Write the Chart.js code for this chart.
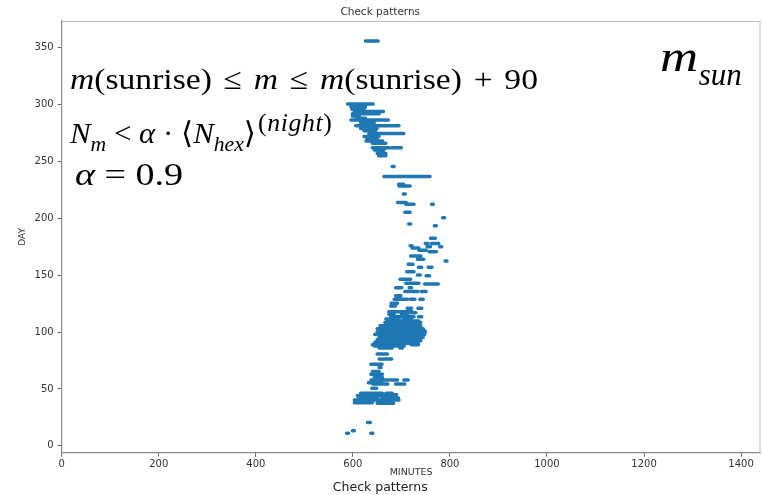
<!DOCTYPE html>
<html><head><meta charset="utf-8">
<script src="https://cdn.jsdelivr.net/npm/chart.js@4.4.1/dist/chart.umd.min.js"></script>
<style>
html,body{margin:0;padding:0;background:#fff;}
#wrap{position:relative;width:762px;height:495px;overflow:hidden;}
canvas{position:absolute;left:0;top:0;}
.m{position:absolute;font-family:"Liberation Serif","DejaVu Serif",serif;color:#000;white-space:nowrap;line-height:1;transform-origin:0 0;}
.m i{font-style:italic;}
.sub{position:relative;}
</style></head><body>
<div id="wrap">
<canvas id="c" width="762" height="495"></canvas>
<div class="m" id="l1" style="left:70px;top:64px;font-size:30px;word-spacing:3px;transform:scaleX(1.12);"><i>m</i>(sunrise) ≤ <i>m</i> ≤ <i>m</i>(sunrise) + 90</div>
<div class="m" id="l2" style="left:70px;top:118px;font-size:30px;transform:scaleX(1.03);"><i>N</i><span class="sub" style="font-size:21px;top:8px;"><i>m</i></span> &lt; <i>α</i> · ⟨<i>N</i><span class="sub" style="font-size:21px;top:8px;"><i>hex</i></span>⟩<span class="sub" style="font-size:25px;top:-12px;letter-spacing:0.6px;margin-left:2px;">(<i>night</i>)</span></div>
<div class="m" id="l3" style="left:75px;top:158px;font-size:32px;transform:scaleX(1.19);"><i>α</i> = 0.9</div>
<div class="m" id="l4" style="left:660px;top:35px;font-size:44px;"><span style="display:inline-block;transform:scaleX(1.2);transform-origin:0 0;margin-right:7px;"><i>m</i></span><span class="sub" style="font-size:31px;top:14px;"><i>sun</i></span></div>
</div>
<script>
// Day of year for each detected segment, and its start / end minute
const days = [356,300.5,298,296,294,292,290,288,286.5,284,281.5,279,277,274.5,272,270,268,266,262,262,260,257,255,245.5,
  236.7,230,228.5,221.4,214,212.4,212.4,205.4,200.6,195,193.6,182.5,177.8,177.8,176,175,175,174,172,170.7,167,164,162.6,
  159.7,157,157,153,150.3,149.6,146.5,143,142.4,139,139,135.6,135.6,135.6,132,129,129,129,125.4,123,121,121,
  118,117,115.7,115.7,113.6,113.6,111.6,111.6,109.8,108.5,108.5,107,105.5,104.5,104.5,103,101.5,101.5,100,99,97.8,96.7,95.5,95.5,94.6,
  93.5,93.5,92.5,91.2,90.2,88.8,88.8,87.9,86,86,80.8,76.4,76.4,71.8,68.8,65.3,63,60,58,58,58,55.6,54.5,54.5,50.7,
  46.3,46.3,45,44,42,42,40.4,38,37.5,20.5,13.2,11.2,11.2];
const startMinutes = [626,589,596,598,603,599,599,608,596,616,606,616,623,633,623,629,627,640,640,680,644,650,653,681,
  664,694,695,704,692,709,762,707,785,715,768,760,749,762,718,753,779,722,736,757,719,733,790,
  714,735,755,711,733,751,697,709,748,688,716,707,722,741,688,685,718,738,679,678,712,734,
  674,700,674,700,678,735,668,705,674,666,700,670,656,665,710,650,660,728,650,656,645,654,660,725,654,
  650,718,654,645,646,640,720,644,654,697,650,654,663,637,654,640,637,644,637,678,705,632,641,688,639,
  616,668,620,609,612,660,603,603,650,630,599,587,637];
const endMinutes = [652,642,626,623,663,654,613,626,673,644,695,650,647,705,654,650,661,668,675,700,664,668,668,685,
  759,705,718,708,710,726,766,718,789,719,772,770,755,777,722,760,783,736,751,772,740,746,794,
  724,742,763,726,739,758,719,736,776,701,721,717,734,751,699,712,728,745,692,688,721,742,
  722,730,685,712,726,742,695,720,736,690,740,725,740,700,735,745,720,748,750,740,748,743,720,745,733,
  710,740,740,725,735,705,735,706,681,702,671,658,680,660,658,654,661,661,675,692,714,660,672,707,649,
  661,681,690,688,650,694,695,640,684,636,603,591,641];
const xTicks = [0,200,400,600,800,1000,1200,1400];
const yTicks = [0,50,100,150,200,250,300,350];

const pts = [];
for (let i = 0; i < days.length; i++) {
  pts.push({x: startMinutes[i], y: days[i]});
  pts.push({x: endMinutes[i], y: days[i]});
  pts.push({x: null, y: null});
}

const frame = {
  id: 'frame',
  afterDraw(chart) {
    const {ctx, chartArea: a} = chart;
    ctx.save();
    ctx.strokeStyle = '#bdbdbd';
    ctx.lineWidth = 1;
    ctx.beginPath();
    ctx.moveTo(a.left, a.top + 0.5); ctx.lineTo(a.right, a.top + 0.5);
    ctx.moveTo(a.right - 0.5, a.top); ctx.lineTo(a.right - 0.5, a.bottom);
    ctx.stroke();
    ctx.restore();
  }
};

const FONT = "'DejaVu Sans', sans-serif";
new Chart(document.getElementById('c'), {
  type: 'scatter',
  data: {datasets: [{
    data: pts,
    showLine: true,
    spanGaps: false,
    borderColor: '#1f77b4',
    backgroundColor: '#1f77b4',
    borderWidth: 3.5,
    borderCapStyle: 'round',
    pointRadius: 0,
    pointHoverRadius: 0
  }]},
  options: {
    responsive: false,
    animation: false,
    devicePixelRatio: 1,
    layout: {padding: {left: 0, right: 1.5, top: 0, bottom: 0}},
    plugins: {
      legend: {display: false},
      tooltip: {enabled: false},
      title: {display: true, text: 'Check patterns', color: '#333',
        font: {family: FONT, size: 10.5, weight: 'normal'}, padding: {top: 6, bottom: 2.4}},
      subtitle: {display: true, position: 'bottom', text: 'Check patterns', color: '#222',
        font: {family: FONT, size: 12.5, weight: 'normal'}, padding: {top: 0, bottom: 0}}
    },
    scales: {
      x: {
        type: 'linear', min: 0, max: 1440,
        afterFit(s) { s.height = 27.3; },
        afterBuildTicks(s) { s.ticks = xTicks.map(v => ({value: v})); },
        grid: {display: true, drawOnChartArea: false, drawTicks: true, tickLength: 4, tickColor: '#666'},
        border: {display: true, color: '#8c8c8c', width: 1.2},
        ticks: {includeBounds: false, padding: 2, color: '#333', font: {family: FONT, size: 10}, maxRotation: 0,
          callback: v => String(v)},
        title: {display: true, text: 'MINUTES', color: '#333', font: {family: FONT, size: 9.5}, padding: {top: 0, bottom: 1.3}}
      },
      y: {
        type: 'linear', min: -6, max: 373.5,
        afterFit(s) { s.width = 61.7; },
        afterBuildTicks(s) { s.ticks = yTicks.map(v => ({value: v})); },
        grid: {display: true, drawOnChartArea: false, drawTicks: true, tickLength: 4, tickColor: '#666'},
        border: {display: true, color: '#8c8c8c', width: 1.2},
        ticks: {includeBounds: false, padding: 4, color: '#333', font: {family: FONT, size: 10},
          callback: v => String(v)},
        title: {display: true, text: 'DAY', color: '#333', font: {family: FONT, size: 9}, padding: {top: 17.5, bottom: 0}}
      }
    }
  },
  plugins: [frame]
});
</script>
</body></html>
